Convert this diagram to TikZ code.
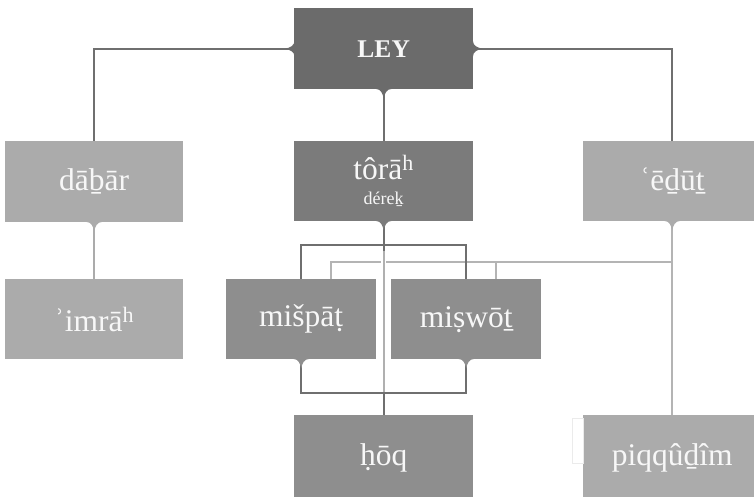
\documentclass[tikz,border=0pt]{standalone}
\usepackage{fontspec}
\setmainfont{Liberation Serif}
\usetikzlibrary{calc}

\definecolor{cdark}{HTML}{6B6B6B}
\definecolor{ctorah}{HTML}{7B7B7B}
\definecolor{cmid}{HTML}{8E8E8E}
\definecolor{clight}{HTML}{ABABAB}
\definecolor{ldark}{HTML}{6F6F6F}
\definecolor{llight}{HTML}{B4B4B4}
\definecolor{ctext}{HTML}{F7F7F7}

% small pointed tab below a box edge
\newcommand{\tabdown}[2]{%
  \fill[#2] ($(#1)+(-8,-0.5)$) .. controls ($(#1)+(-3,-0.5)$) and ($(#1)+(-1,4)$) ..
    ($(#1)+(0,9)$) .. controls ($(#1)+(1,4)$) and ($(#1)+(3,-0.5)$) ..
    ($(#1)+(8,-0.5)$) -- cycle;}
% small pointed tab to the left of a box edge
\newcommand{\tableft}[2]{%
  \fill[#2] ($(#1)+(0.5,-8)$) .. controls ($(#1)+(0.5,-3)$) and ($(#1)+(-4,-1)$) ..
    ($(#1)+(-9,0)$) .. controls ($(#1)+(-4,1)$) and ($(#1)+(0.5,3)$) ..
    ($(#1)+(0.5,8)$) -- cycle;}
% small pointed tab to the right of a box edge
\newcommand{\tabright}[2]{%
  \fill[#2] ($(#1)+(-0.5,-8)$) .. controls ($(#1)+(-0.5,-3)$) and ($(#1)+(4,-1)$) ..
    ($(#1)+(9,0)$) .. controls ($(#1)+(4,1)$) and ($(#1)+(-0.5,3)$) ..
    ($(#1)+(-0.5,8)$) -- cycle;}

\begin{document}
\begin{tikzpicture}[x=1pt,y=-1pt,
  box/.style={rectangle, anchor=north west, inner sep=0pt, text=ctext,
    font=\fontsize{31.5}{35}\selectfont, align=center},
  wide/.style={box, minimum width=179pt, minimum height=81pt},
  narrow/.style={box, minimum width=150pt, minimum height=80pt},
  dline/.style={draw=ldark, line width=2pt},
  lline/.style={draw=llight, line width=2pt},
]
\useasboundingbox (0,0) rectangle (754,496);
\fill[white] (0,0) rectangle (754,496);

% boxes
\node[wide, fill=cdark, font=\bfseries\fontsize{25.5}{30}\selectfont] (ley) at (294,8) {LEY};
\node[wide, fill=clight, minimum width=178pt] (dabar) at (5,141) {dāḇār};
\node[wide, fill=ctorah, minimum height=80pt] (torah) at (294,141)
  {tôrā\textsuperscript{h}\\[-10pt]{\fontsize{18}{20}\selectfont déreḵ}};
\node[wide, fill=clight, minimum width=178pt, minimum height=80pt] (edut) at (583,141) {ʿēḏūṯ};
\node[wide, fill=clight, minimum width=178pt, minimum height=80pt] (imrah) at (5,279) {ʾimrā\textsuperscript{h}};
\node[narrow, fill=cmid] (mispat) at (226,279) {mišpāṭ};
\node[narrow, fill=cmid] (miswot) at (391,279) {miṣwōṯ};
\node[wide, fill=cmid, minimum height=86pt] (hoq) at (294,415) {ḥōq};
\node[wide, fill=clight, minimum width=178pt, minimum height=86pt] (piqqudim) at (583,415) {piqqûḏîm};

% faint sheet edge beside the last box
\fill[white, draw=black!8, line width=0.6pt] (572,418) rectangle (583,463);

% junction points of the connectors
\coordinate (jtop) at (383,245);
\coordinate (jedut) at (672,262);
\coordinate (jbot) at (383,393);

% connectors from LEY
\draw[dline] (ley.west) -| (dabar.north);
\draw[dline] (ley.east) -| (edut.north);
\draw[dline] (ley.south) -- (torah.north);

% dabar to imrah
\draw[lline, draw=clight] (dabar.south) -- (imrah.north);

% edut network
\draw[lline] (edut.south) -- (piqqudim.north);
\draw[lline] (jedut) -| ([xshift=30pt]mispat.north);
\draw[lline] ([xshift=30pt]miswot.north) |- (jedut);

% torah network
\draw[dline] (torah.south) -- (hoq.north);
\draw[white, line width=5pt] ($(torah.south)+(0,32)$) -- ($(hoq.north)+(0,-24)$);
\draw[lline, draw=cmid!70] ($(torah.south)+(0,30)$) -- ($(hoq.north)+(0,-22)$);
\draw[dline] (mispat.north) |- (jtop) -| (miswot.north);
\draw[dline] (mispat.south) |- (jbot) -| (miswot.south);

% tabs
\tableft{ley.west}{cdark}
\tabright{ley.east}{cdark}
\tabdown{ley.south}{cdark}
\tabdown{dabar.south}{clight}
\tabdown{torah.south}{ctorah}
\tabdown{edut.south}{clight}
\tabdown{mispat.south}{cmid}
\tabdown{miswot.south}{cmid}
\end{tikzpicture}
\end{document}
